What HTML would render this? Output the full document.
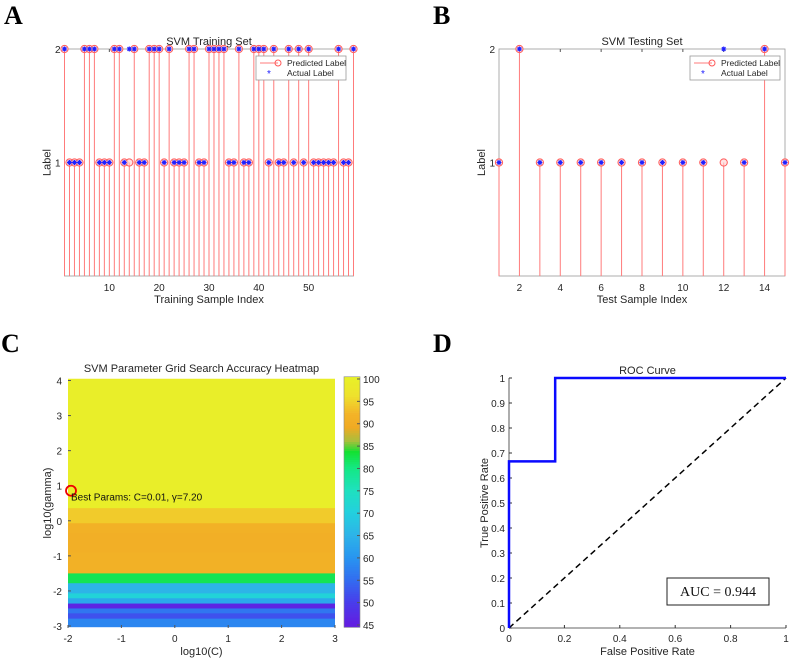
<!DOCTYPE html>
<html><head><meta charset="utf-8">
<style>
html,body{margin:0;padding:0;background:#fff;}
svg{display:block;font-family:"Liberation Sans",sans-serif;}
.tk{font-size:10px;fill:#262626;}
.lab{font-size:11px;fill:#262626;}
.pl{font-family:"Liberation Serif",serif;font-weight:bold;font-size:26px;fill:#000;}
</style></head>
<body>
<svg id="fig" width="790" height="660" viewBox="0 0 790 660">
<text class="pl" x="4" y="24">A</text>
<text class="pl" x="433" y="24">B</text>
<text class="pl" x="1" y="352">C</text>
<text class="pl" x="433" y="352">D</text>
<g id="pa"></g>
<g id="pb"></g>
<g id="pc"></g>
<g id="pd"></g>
</svg>
<script>
// ---- Panel A data ----
const trainPred = [2,1,1,1,2,2,2,1,1,1,2,2,1,1,2,1,1,2,2,2,1,2,1,1,1,2,2,1,1,2,2,2,2,1,1,2,1,1,2,2,2,1,2,1,1,2,1,2,1,2,1,1,1,1,1,2,1,1,2];
const trainActual = [2,1,1,1,2,2,2,1,1,1,2,2,1,2,2,1,1,2,2,2,1,2,1,1,1,2,2,1,1,2,2,2,2,1,1,2,1,1,2,2,2,1,2,1,1,2,1,2,1,2,1,1,1,1,1,2,1,1,2];
const trainXTicks = [10,20,30,40,50];
// ---- Panel B data ----
const testPred = [1,2,1,1,1,1,1,1,1,1,1,1,1,2,1];
const testActual = [1,2,1,1,1,1,1,1,1,1,1,2,1,2,1];
const testXTicks = [2,4,6,8,10,12,14];
const labelYTicks = [1,2];
// ---- Panel C data ----
const bandTop = [4.05,0.36,-0.07,-0.35,-0.9,-1.5,-1.78,-2.07,-2.21,-2.36,-2.5,-2.64,-2.79];
const bandBottom = [0.36,-0.07,-0.35,-0.9,-1.5,-1.78,-2.07,-2.21,-2.36,-2.5,-2.64,-2.79,-3.02];
const bandAcc = [99.5,94,91,90.5,91,82,65,71,63,46,56,52,58];
const cXTicks = [-2,-1,0,1,2,3];
const cYTicks = [-3,-2,-1,0,1,2,3,4];
const cbTicks = [45,50,55,60,65,70,75,80,85,90,95,100];
const bestC = -2, bestG = 0.857;
// ---- Panel D data ----
const rocFPR = [0,0,0.1667,0.1667,1];
const rocTPR = [0,0.6667,0.6667,1,1];
const rocTicksX = [0,0.2,0.4,0.6,0.8,1];
const rocTicksY = [0,0.1,0.2,0.3,0.4,0.5,0.6,0.7,0.8,0.9,1];
const aucValue = 0.944;

const NS='http://www.w3.org/2000/svg';
function mk(p,t,a){const e=document.createElementNS(NS,t);for(const k in a)e.setAttribute(k,a[k]);p.appendChild(e);return e;}

function stemPanel(g,pred,act,xt,L,R,title,xlabel,legX){
  const T=49,B=276,n=pred.length;
  const sx=i=>L+(i-1)*(R-L)/(n-1), sy=v=>B-(v)*(B-T)/2;
  let e=mk(g,'rect',{x:L,y:T,width:R-L,height:B-T,fill:'none',stroke:'#999','stroke-width':0.8});
  
  
  for(const v of xt){
    mk(g,'line',{x1:sx(v),x2:sx(v),y1:T,y2:T+3,stroke:'#555'});
    e=mk(g,'text',{x:sx(v),y:B+15,'text-anchor':'middle',class:'tk'});e.textContent=v;
    
    
  }
  for(const v of labelYTicks){
    e=mk(g,'text',{x:L-4,y:sy(v)+4,'text-anchor':'end',class:'tk'});e.textContent=v;
    
    
  }
  pred.forEach((v,k)=>{
    const x=sx(k+1);
    e=mk(g,'line',{x1:x,x2:x,y1:B,y2:sy(v),stroke:'#ff7b7b','stroke-width':1});
    
    
    e=mk(g,'circle',{cx:x,cy:sy(v),r:3.6,fill:'#ffd0d0','fill-opacity':0.6,stroke:'#ff5a5a','stroke-width':1});
    
    
  });
  act.forEach((v,k)=>{
    const x=sx(k+1),y=sy(v);
    e=mk(g,'path',{d:`M${x-2.5} ${y}H${x+2.5}M${x} ${y-2.5}V${y+2.5}M${x-1.8} ${y-1.8}L${x+1.8} ${y+1.8}M${x-1.8} ${y+1.8}L${x+1.8} ${y-1.8}`,stroke:'#2020ff','stroke-width':1.1});
    
    
  });
  e=mk(g,'text',{x:(L+R)/2,y:T-4,'text-anchor':'middle',class:'lab'});e.textContent=title;
  
  
  e=mk(g,'text',{x:(L+R)/2,y:B+27,'text-anchor':'middle',class:'lab'});e.textContent=xlabel;
  
  
  e=mk(g,'text',{x:0,y:0,'text-anchor':'middle',class:'lab',transform:`translate(${L-14},${sy(1)}) rotate(-90)`});e.textContent='Label';
  
  
  const lg=mk(g,'g',{});
  
  
  mk(lg,'rect',{x:legX,y:56,width:90,height:24,fill:'#fff',stroke:'#999','stroke-width':0.8});
  mk(lg,'line',{x1:legX+4,x2:legX+22,y1:63,y2:63,stroke:'#ff7b7b'});
  mk(lg,'circle',{cx:legX+22,cy:63,r:3,fill:'none',stroke:'#ff5a5a'});
  e=mk(lg,'text',{x:legX+31,y:66,style:'font-size:8.5px',fill:'#262626'});e.textContent='Predicted Label';
  
  
  mk(lg,'text',{x:legX+13,y:77,'text-anchor':'middle',style:'font-size:10px',fill:'#2020ff'}).textContent='*';
  e=mk(lg,'text',{x:legX+31,y:76,style:'font-size:8.5px',fill:'#262626'});e.textContent='Actual Label';
  
  
}
stemPanel(document.getElementById('pa'),trainPred,trainActual,trainXTicks,64.5,353.5,'SVM Training Set','Training Sample Index',256);
stemPanel(document.getElementById('pb'),testPred,testActual,testXTicks,499,785,'SVM Testing Set','Test Sample Index',690);

// ---- colormap ----
const cmapV=[45,50,55,60,65,70,75,80,83.5,86,89,92,96,100];
const cmapC=[[98,30,225],[72,62,235],[50,110,240],[40,150,240],[45,180,232],[35,208,222],[30,225,190],[20,232,130],[20,225,50],[170,190,60],[240,170,35],[243,180,40],[238,225,45],[232,240,40]];
function cmap(v){
  if(v<=cmapV[0])return `rgb(${cmapC[0]})`;
  for(let i=1;i<cmapV.length;i++){if(v<=cmapV[i]){const t=(v-cmapV[i-1])/(cmapV[i]-cmapV[i-1]);const c=cmapC[i-1].map((a,j)=>Math.round(a+(cmapC[i][j]-a)*t));return `rgb(${c})`;}}
  return `rgb(${cmapC[cmapC.length-1]})`;
}
(function(){
  const g=document.getElementById('pc');
  const L=68,R=335,T=378,B=628;
  const sx=c=>L+(c+2)*(R-L)/5, sy=v=>626-(v+3)*(626-380.5)/7;
  let e;
  bandAcc.forEach((a,i)=>{
    const y1=Math.max(T,sy(bandTop[i])),y2=Math.min(B,sy(bandBottom[i]));
    e=mk(g,'rect',{x:L,y:y1,width:R-L,height:y2-y1+0.5,fill:cmap(a)});
    
    
  });
  for(const v of cXTicks){
    mk(g,'line',{x1:sx(v),x2:sx(v),y1:B,y2:B-3,stroke:'#555'});
    e=mk(g,'text',{x:sx(v),y:B+14,'text-anchor':'middle',class:'tk'});e.textContent=v;
    
    
  }
  for(const v of cYTicks){
    mk(g,'line',{x1:L,x2:L+3,y1:sy(v),y2:sy(v),stroke:'#555'});
    e=mk(g,'text',{x:L-6,y:sy(v)+4,'text-anchor':'end',class:'tk'});e.textContent=v;
    
    
  }
  e=mk(g,'text',{x:(L+R)/2,y:T-6,'text-anchor':'middle',class:'lab'});e.textContent='SVM Parameter Grid Search Accuracy Heatmap';
  
  
  e=mk(g,'text',{x:(L+R)/2,y:B+27,'text-anchor':'middle',class:'lab'});e.textContent='log10(C)';
  
  
  e=mk(g,'text',{x:0,y:0,'text-anchor':'middle',class:'lab',transform:`translate(51,${(T+B)/2}) rotate(-90)`});e.textContent='log10(gamma)';
  
  
  e=mk(g,'circle',{cx:sx(bestC)+3,cy:sy(bestG),r:5,fill:'none',stroke:'#e00','stroke-width':1.8});
  
  
  e=mk(g,'text',{x:sx(bestC)+3,y:sy(bestG)+10,style:'font-size:10px',fill:'#111'});e.textContent='Best Params: C=0.01, γ=7.20';
  
  
  // colorbar
  const cbL=344,cbW=16,vT=379,vB=625,cy=v=>vB-(v-45)*(vB-vT)/55;
  const cb=mk(g,'g',{});
  
  
  for(let v=44.5;v<100.5;v+=0.5){mk(cb,'rect',{x:cbL,y:cy(v+0.5),width:cbW,height:(vB-vT)/110+0.4,fill:cmap(v)});}
  mk(cb,'rect',{x:cbL,y:cy(100.5),width:cbW,height:cy(44.5)-cy(100.5),fill:'none',stroke:'#888','stroke-width':0.6});
  for(const v of cbTicks){
    mk(cb,'line',{x1:cbL+cbW-3,x2:cbL+cbW,y1:cy(v),y2:cy(v),stroke:'#555'});
    e=mk(cb,'text',{x:cbL+cbW+3,y:cy(v)+4,class:'tk'});e.textContent=v;
    
    
  }
})();
(function(){
  const g=document.getElementById('pd');
  const L=509,R=786,T=378,B=628;
  const sx=v=>L+v*(R-L), sy=v=>B-v*(B-T);
  let e;
  e=mk(g,'line',{x1:L,x2:R,y1:B,y2:B,stroke:'#333','stroke-width':0.8});
  
  
  e=mk(g,'line',{x1:L,x2:L,y1:T,y2:B,stroke:'#333','stroke-width':0.8});
  
  
  for(const v of rocTicksX){
    mk(g,'line',{x1:sx(v),x2:sx(v),y1:B,y2:B-3,stroke:'#333'});
    e=mk(g,'text',{x:sx(v),y:B+14,'text-anchor':'middle',class:'tk'});e.textContent=v;
    
    
  }
  for(const v of rocTicksY){
    mk(g,'line',{x1:L,x2:L+3,y1:sy(v),y2:sy(v),stroke:'#333'});
    e=mk(g,'text',{x:L-4,y:sy(v)+4,'text-anchor':'end',class:'tk'});e.textContent=v;
    
    
  }
  e=mk(g,'line',{x1:sx(0),y1:sy(0),x2:sx(1),y2:sy(1),stroke:'#000','stroke-width':1.5,'stroke-dasharray':'6,4'});
  
  
  e=mk(g,'polyline',{points:rocFPR.map((f,i)=>sx(f)+','+sy(rocTPR[i])).join(' '),fill:'none',stroke:'#0a0aff','stroke-width':2.5});
  
  
  e=mk(g,'text',{x:(L+R)/2,y:T-4,'text-anchor':'middle',class:'lab'});e.textContent='ROC Curve';
  
  
  e=mk(g,'text',{x:(L+R)/2,y:B+27,'text-anchor':'middle',class:'lab'});e.textContent='False Positive Rate';
  
  
  e=mk(g,'text',{x:0,y:0,'text-anchor':'middle',class:'lab',transform:`translate(488,${(T+B)/2}) rotate(-90)`});e.textContent='True Positive Rate';
  
  
  e=mk(g,'rect',{x:667,y:578,width:102,height:27,fill:'#fff',stroke:'#222','stroke-width':1});
  
  
  e=mk(g,'text',{x:718,y:596,'text-anchor':'middle',style:'font-family:"Liberation Serif",serif;font-size:14px',fill:'#111'});e.textContent='AUC = '+aucValue.toFixed(3);
  
  
})();
</script>
</body></html>
